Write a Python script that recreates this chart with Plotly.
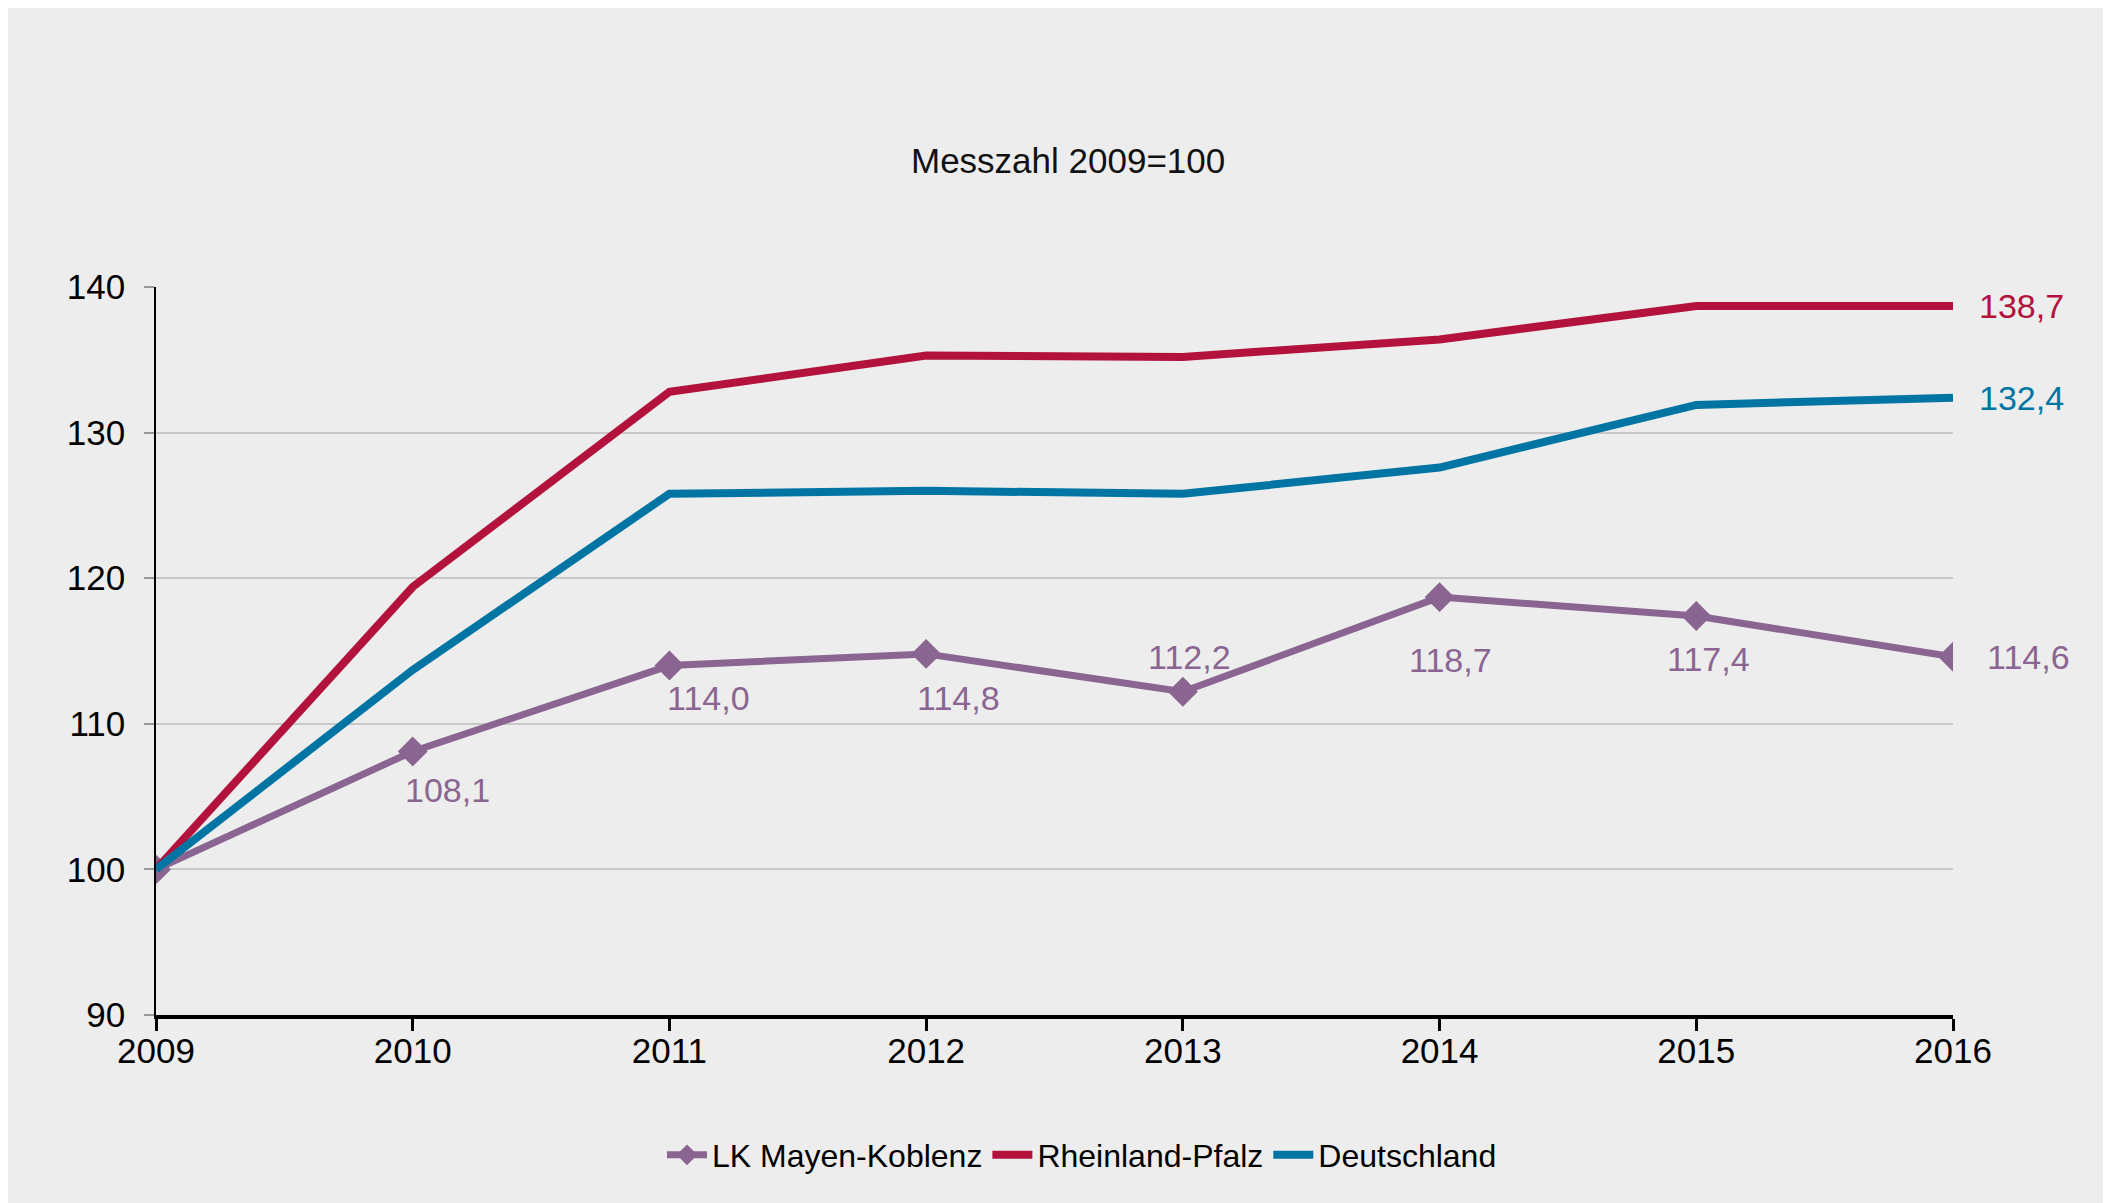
import plotly.graph_objects as go

years = [2009, 2010, 2011, 2012, 2013, 2014, 2015, 2016]
lk_mayen = [100.0, 108.1, 114.0, 114.8, 112.2, 118.7, 117.4, 114.6]
rlp = [100.0, 119.4, 132.8, 135.3, 135.2, 136.4, 138.7, 138.7]
de = [100.0, 113.7, 125.8, 126.0, 125.8, 127.6, 131.9, 132.4]
y_ticks = [90, 100, 110, 120, 130, 140]

C_LK = "#8B6591"
C_RLP = "#B3123D"
C_DE = "#0075A4"
FONT = "Arial, Liberation Sans, sans-serif"

W, H = 2111, 1203
ML, MR, MT, MB = 148, 166, 279, 196

fig = go.Figure()
fig.add_trace(go.Scatter(x=years, y=lk_mayen, name="LK Mayen-Koblenz", mode="lines+markers",
                         line=dict(color=C_LK, width=7),
                         marker=dict(symbol="diamond", size=23, color=C_LK)))
fig.add_trace(go.Scatter(x=years, y=rlp, name="Rheinland-Pfalz", mode="lines",
                         line=dict(color=C_RLP, width=8)))
fig.add_trace(go.Scatter(x=years, y=de, name="Deutschland", mode="lines",
                         line=dict(color=C_DE, width=8)))

def fmt(v):
    return f"{v:.1f}".replace(".", ",")

LBL = 34
# label offsets (pixels) for LK Mayen-Koblenz values from 2010 on
lk_offsets = [(35, -39), (39, -32), (32, -44), (7, 35), (11, -63), (12, -43)]
for xv, yv, (dx, dy) in zip(years[1:-1], lk_mayen[1:-1], lk_offsets):
    fig.add_annotation(x=xv, y=yv, text=fmt(yv), showarrow=False, xshift=dx, yshift=dy,
                       font=dict(family=FONT, size=LBL, color=C_LK))
fig.add_annotation(x=years[-1], y=lk_mayen[-1], text=fmt(lk_mayen[-1]), showarrow=False,
                   xanchor="left", xshift=32, yshift=0, font=dict(family=FONT, size=LBL, color=C_LK))
fig.add_annotation(x=years[-1], y=rlp[-1], text=fmt(rlp[-1]), showarrow=False,
                   xanchor="left", xshift=24, font=dict(family=FONT, size=LBL, color=C_RLP))
fig.add_annotation(x=years[-1], y=de[-1], text=fmt(de[-1]), showarrow=False,
                   xanchor="left", xshift=24, font=dict(family=FONT, size=LBL, color=C_DE))

# title
pw = W - ML - MR
ph = H - MT - MB
fig.add_annotation(xref="paper", yref="paper", x=(1060 - ML) / pw, y=(H - MB - 153) / ph,
                   text="Messzahl 2009=100", showarrow=False, xanchor="center", yanchor="middle",
                   font=dict(family=FONT, size=35, color="#111111"))

fig.update_layout(
    width=W, height=H,
    margin=dict(l=ML, r=MR, t=MT, b=MB),
    paper_bgcolor="#EDEDED", plot_bgcolor="#EDEDED",
    font=dict(family=FONT, size=35, color="#000000"),
    showlegend=True,
    legend=dict(orientation="h", xanchor="center", yanchor="middle",
                x=(1074 - ML) / pw, y=-(1147 - (H - MB)) / ph,
                font=dict(family=FONT, size=32, color="#000000"),
                bgcolor="rgba(0,0,0,0)", itemwidth=40, tracegroupgap=0),
    xaxis=dict(range=[2009, 2016], tickvals=years, showgrid=False, zeroline=False,
               showline=True, linecolor="#000000", linewidth=4,
               ticks="outside", ticklen=12, tickwidth=3, tickcolor="#000000",
               tickfont=dict(family=FONT, size=35, color="#000000"), ticklabelstandoff=-10),
    yaxis=dict(range=[90, 140], tickvals=y_ticks, showgrid=True, gridcolor="#C8C8C8", gridwidth=1.5,
               zeroline=False, showline=True, linecolor="#000000", linewidth=1.5,
               ticks="outside", ticklen=10, tickwidth=1.5, tickcolor="#999999",
               tickfont=dict(family=FONT, size=35, color="#000000"), ticklabelstandoff=12),
)

fig.write_html("out.html")
